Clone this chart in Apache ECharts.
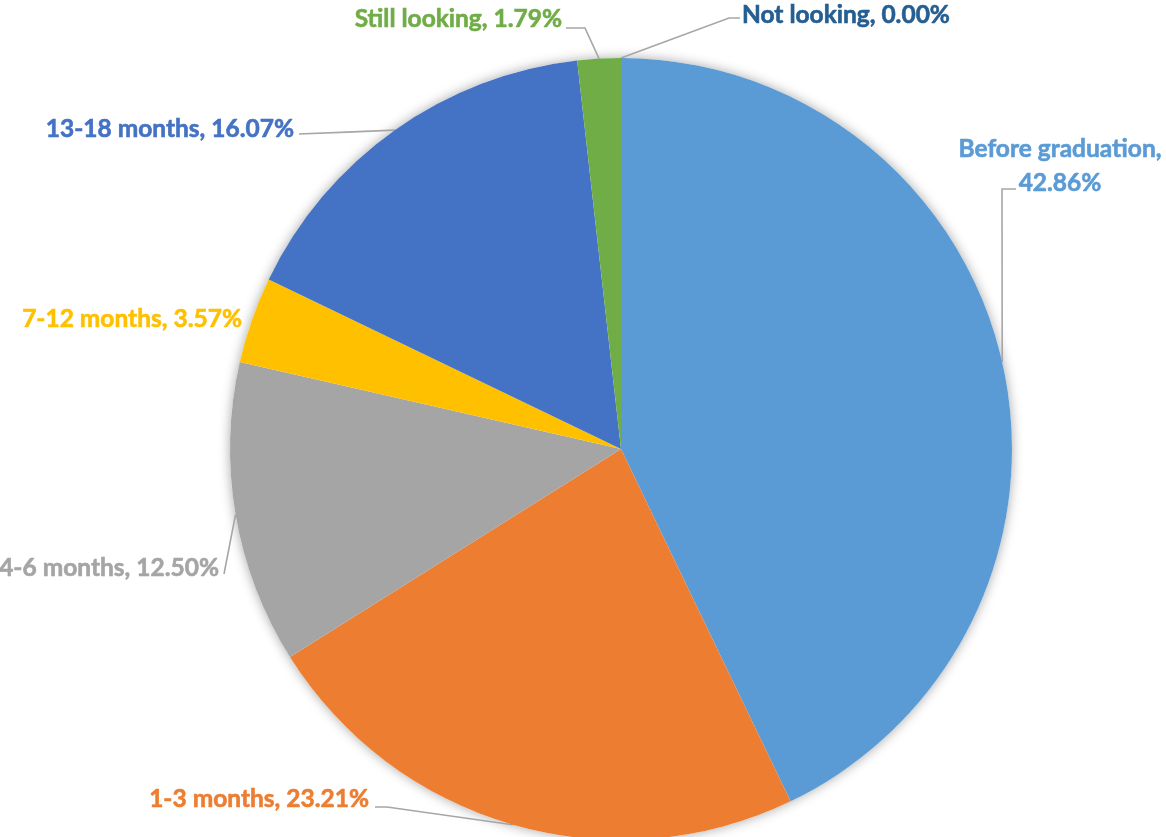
<!DOCTYPE html>
<html>
<head>
<meta charset="utf-8">
<script src="https://cdn.jsdelivr.net/npm/echarts@6/dist/echarts.min.js"></script>
<style>
  html, body { margin: 0; padding: 0; background: #fff; }
  #chart { width: 1166px; height: 837px; }
</style>
</head>
<body>
<div id="chart"></div>
<script>
// slices, clockwise from 12 o'clock
const categories = ['Before graduation', '1-3 months', '4-6 months', '7-12 months', '13-18 months', 'Still looking', 'Not looking']
const shares = [42.86, 23.21, 12.50, 3.57, 16.07, 1.79, 0.00]
const colors = ['#5B9BD5', '#ED7D31', '#A5A5A5', '#FFC000', '#4472C4', '#70AD47', '#255E91']

// where each label sits, and the bend/end of its leader line
const labelSpots = [
	{ x: 1060, y: 166, align: 'center', wrap: true, bend: [1002, 189], end: [1016, 189] },
	{ x: 369, y: 799, align: 'right', bend: [387, 807], end: [375, 807] },
	{ x: 219, y: 568, align: 'right', bend: null, end: [224, 574] },
	{ x: 242, y: 319, align: 'right', noLine: true },
	{ x: 294, y: 129, align: 'right', bend: null, end: [299, 134] },
	{ x: 562, y: 19, align: 'right', bend: [585, 28], end: [566, 28] },
	{ x: 742, y: 15, align: 'left', bend: [729, 18], end: [740, 18] },
]

const chart = echarts.init(document.getElementById('chart'))

const pieData = categories.map((name, i) => ({
	name,
	value: shares[i],
	itemStyle: { color: colors[i] },
	// a thin stroke of the same colour gives the heavier Calibri-like weight
	label: { color: colors[i], textBorderColor: colors[i], textBorderWidth: 0.6 },
	labelLine: { show: !labelSpots[i].noLine },
}))

chart.setOption({
	animation: false,
	series: [
		{
			// soft shadow behind the whole pie
			type: 'pie',
			silent: true,
			center: [621, 449],
			radius: 391,
			data: [{ value: 1, itemStyle: { color: '#fff' } }],
			label: { show: false },
			labelLine: { show: false },
			itemStyle: { shadowBlur: 12, shadowColor: 'rgba(0,0,0,0.35)' },
			z: 1,
		},
		{
			type: 'pie',
			center: [621, 449],
			radius: 391,
			startAngle: 90,
			clockwise: true,
			avoidLabelOverlap: false,
			itemStyle: { borderWidth: 0 },
			data: pieData,
			label: {
				show: true,
				position: 'outside',
				fontFamily: 'Lato',
				fontWeight: 'bold',
				fontSize: 24.5,
				lineHeight: 34,
				formatter: p => {
					const sep = labelSpots[p.dataIndex].wrap ? ',\n' : ', '
					return p.name + sep + p.percent.toFixed(2) + '%'
				},
			},
			labelLine: {
				show: true,
				lineStyle: { color: '#A6A6A6', width: 1.6 },
			},
			labelLayout: params => {
				const s = labelSpots[params.dataIndex]
				const out = { x: s.x, y: s.y, align: s.align, verticalAlign: 'middle' }
				if (!s.noLine && params.labelLinePoints) {
					const start = params.labelLinePoints[0]
					const pts = [start]
					pts.push(s.bend ? s.bend : [(start[0] + s.end[0]) / 2, (start[1] + s.end[1]) / 2])
					pts.push(s.end)
					out.labelLinePoints = pts
				}
				return out
			},
			z: 2,
		},
	],
})
</script>
</body>
</html>
